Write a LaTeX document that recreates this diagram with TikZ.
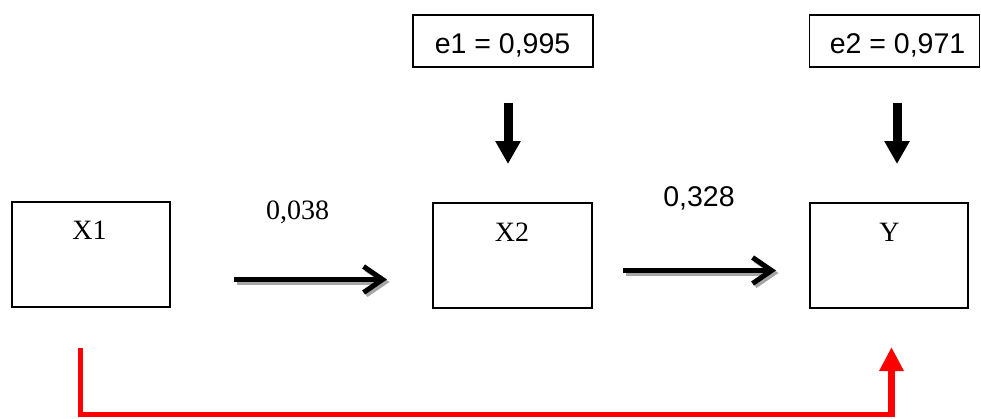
\documentclass[tikz,border=0pt]{standalone}
\usepackage{fontspec}
\setmainfont{Liberation Serif}
\newfontfamily\arialf{Liberation Sans}
\usetikzlibrary{arrows.meta}
\tikzset{
  box/.style={draw, line width=1.2pt, inner sep=0pt},
  serlabel/.style={anchor=base, inner sep=0pt, font=\fontsize{28}{32}\selectfont},
  sanslabel/.style={anchor=base, inner sep=0pt, font=\arialf\fontsize{28.5}{32}\selectfont},
  patharrow/.style={line width=5pt, -{Straight Barb[length=19pt,width=26pt,line width=5pt]}},
  shadowarrow/.style={patharrow, gray!70, transform canvas={shift={(2.5pt,-2.5pt)}}},
  errarrow/.style={line width=9pt, -{Triangle[length=23pt,width=24pt]}},
  redline/.style={red, line width=5pt},
  redarrow/.style={red, line width=7pt, -{Triangle[length=24pt,width=23pt]}}
}
\begin{document}
\begin{tikzpicture}[x=1pt,y=-1pt]
\useasboundingbox (0,0) rectangle (981,418);
% main boxes
\node[box, minimum width=158pt, minimum height=105pt] (x1) at (91,254.5) {};
\node[box, minimum width=159pt, minimum height=105pt] (x2) at (512.5,255.5) {};
\node[box, minimum width=158pt, minimum height=105pt] (y) at (889,255.5) {};
\node[serlabel] (x1t) at (89.5,239) {X1};
\node[serlabel] (x2t) at (512,241) {X2};
\node[serlabel] (yt) at (889.5,241) {Y};
% error boxes
\node[box, minimum width=180pt, minimum height=52pt] (e1) at (503,41) {};
\node[box, minimum width=170pt, minimum height=52pt] (e2) at (894.5,41) {};
\node[sanslabel] (e1t) at (502.5,53) {e1 = 0,995};
\node[sanslabel] (e2t) at (897.5,53) {e2 = 0,971};
% path coefficients
\node[serlabel] (c1) at (297.5,219) {0,038};
\node[sanslabel] (c2) at (699,206) {0,328};
% horizontal arrows with shadow
\coordinate (a1s) at (234,279.5);
\coordinate (a1e) at (387,279.5);
\coordinate (a2s) at (623,270.5);
\coordinate (a2e) at (776,270.5);
\draw[shadowarrow] (a1s) -- (a1e);
\draw[patharrow] (a1s) -- (a1e);
\draw[shadowarrow] (a2s) -- (a2e);
\draw[patharrow] (a2s) -- (a2e);
% error arrows
\coordinate (d1s) at (508,103);
\coordinate (d1e) at (508,164);
\coordinate (d2s) at (897,103);
\coordinate (d2e) at (897,164);
\draw[errarrow] (d1s) -- (d1e);
\draw[errarrow] (d2s) -- (d2e);
% red direct path
\coordinate (r0) at (80.5,348);
\coordinate (r1) at (895,414.5);
\coordinate (r2) at (891.5,417);
\coordinate (r3) at (891.5,347);
\draw[redline] (r0) |- (r1);
\draw[redarrow] (r2) -- (r3);
\end{tikzpicture}
\end{document}
